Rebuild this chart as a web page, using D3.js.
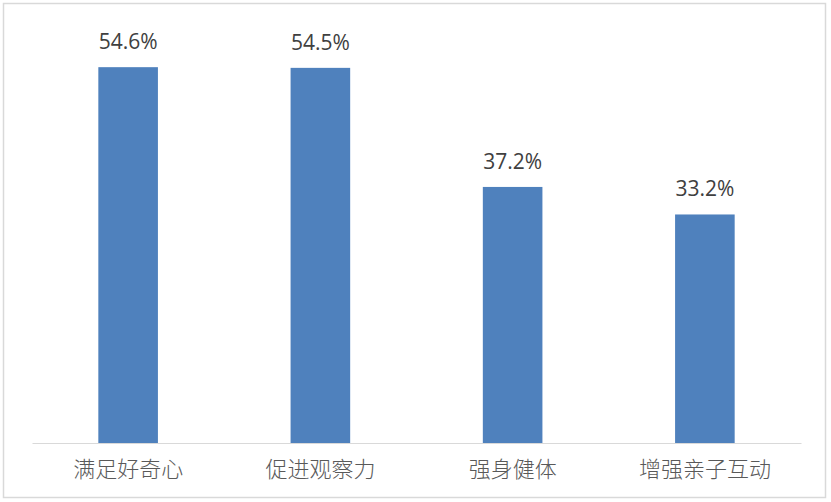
<!DOCTYPE html>
<html>
<head>
<meta charset="utf-8">
<script src="https://cdn.jsdelivr.net/npm/d3@7"></script>
<style>
  html, body { margin: 0; padding: 0; background: #fff; }
</style>
</head>
<body>
<div id="chart"></div>
<script>
var categories = ["满足好奇心", "促进观察力", "强身健体", "增强亲子互动"];
var values = [54.6, 54.5, 37.2, 33.2];
var yMax = 60;

var width = 831, height = 502;
var svg = d3.select("#chart").append("svg")
	.attr("width", width)
	.attr("height", height);

// outer frame
svg.append("rect")
	.attr("x", 3.5).attr("y", 3.5)
	.attr("width", 822).attr("height", 494)
	.attr("fill", "#fff")
	.attr("stroke", "#d9d9d9")
	.attr("stroke-width", 1.5);

var x = d3.scaleBand()
	.domain(categories)
	.range([32, 801])
	.paddingInner(0.69)
	.paddingOuter(0.345);

var y = d3.scaleLinear()
	.domain([0, yMax])
	.range([443, 30]);

svg.selectAll("rect.bar")
	.data(values)
	.enter().append("rect")
	.attr("class", "bar")
	.attr("x", function(d, i) { return x(categories[i]); })
	.attr("y", function(d) { return y(d); })
	.attr("width", x.bandwidth())
	.attr("height", function(d) { return y(0) - y(d); })
	.attr("fill", "#4f81bd");

svg.selectAll("text.val")
	.data(values)
	.enter().append("text")
	.attr("class", "val")
	.attr("x", function(d, i) { return x(categories[i]) + x.bandwidth() / 2; })
	.attr("y", function(d) { return y(d) - 18; })
	.attr("text-anchor", "middle")
	.attr("fill", "#404040")
	.style("font-family", "'Open Sans', sans-serif")
	.style("font-size", "21px")
	.text(function(d) { return d.toFixed(1) + "%"; });

var axis = d3.axisBottom(x).tickSize(0).tickPadding(18);
var gx = svg.append("g")
	.attr("transform", "translate(0," + y(0) + ")")
	.call(axis);
gx.select(".domain").attr("stroke", "#d9d9d9").attr("stroke-width", 1);
gx.selectAll("text")
	.attr("fill", "#595959")
	.attr("dy", "0.71em")
	.style("font-family", "'Noto Sans CJK SC', sans-serif")
	.style("font-weight", 300)
	.style("font-size", "22px");
</script>
</body>
</html>
